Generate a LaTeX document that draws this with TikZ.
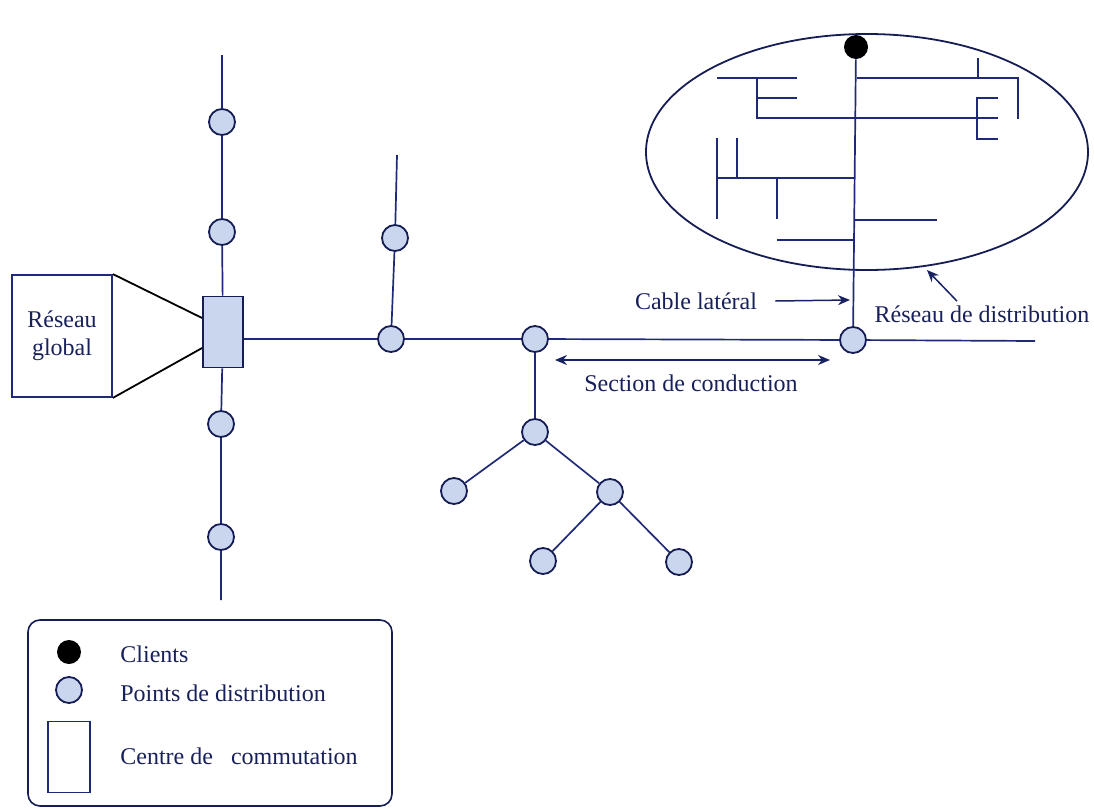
\documentclass[tikz,border=0pt]{standalone}
\usepackage{fontspec}
\setmainfont{Liberation Serif}
\usetikzlibrary{arrows.meta}
\definecolor{navy}{HTML}{1E2A78}
\definecolor{txtnavy}{HTML}{18205C}
\definecolor{ptfill}{HTML}{C9D6EE}
\tikzset{
  pt/.style={circle, draw=navy!70!black, fill=ptfill, line width=0.9pt, minimum size=13pt, inner sep=0pt},
  client/.style={circle, fill=black, minimum size=12pt, inner sep=0pt},
  cable/.style={draw=navy, line width=0.85pt},
  lbl/.style={text=txtnavy, font=\fontsize{12}{14}\selectfont, inner sep=1pt},
  fleche/.style={-{Stealth[length=6pt,width=5pt]}, draw=navy!80!black, line width=0.75pt}
}
\begin{document}
\begin{tikzpicture}[x=0.5pt, y=-0.5pt]
        \useasboundingbox (0,0) rectangle (1094,809);

        % centre de commutation + reseau global
        \node [draw=navy!70!black, fill=ptfill, line width=0.9pt, minimum width=20pt, minimum height=35.5pt, inner sep=0pt] (sw) at (223,332) {};
        \node [draw=navy, line width=0.9pt, minimum width=50pt, minimum height=61pt, lbl, align=center] (rg) at (62,336) {Réseau\\global};
        \draw [line width=0.9pt] (rg.north east) -- ([yshift=7pt]sw.west);
        \draw [line width=0.9pt] (rg.south east) -- ([yshift=-8pt]sw.west);

        % ligne verticale de gauche
        \coordinate (atop) at (222,55);
        \node [pt] (a1) at (222,122) {};
        \node [pt] (a2) at (222,232) {};
        \node [pt] (a3) at (221,424) {};
        \node [pt] (a4) at (221,537) {};
        \coordinate (abot) at (221,600);
        \draw [cable] (atop) -- (a1) -- (a2) -- (sw) -- (a3) -- (a4) -- (abot);

        % ligne principale
        \node [pt] (b1) at (391,339) {};
        \node [pt] (b2) at (395,238) {};
        \coordinate (btop) at (397,155);
        \node [pt] (c1) at (535,339) {};
        \node [pt] (d1) at (853,340) {};
        \coordinate (dend) at (1035,341);
        \draw [cable] ([yshift=-3.5pt]sw.east) -- (b1) -- (c1) -- (d1) -- (dend);
        \draw [cable] (btop) -- (b2) -- (b1);

        % arbre
        \node [pt] (c2) at (535,432) {};
        \node [pt] (c3) at (454,491) {};
        \node [pt] (c4) at (610,492) {};
        \node [pt] (c5) at (543,561) {};
        \node [pt] (c6) at (679,562) {};
        \draw [cable] (c1) -- (c2);
        \draw [cable] (c2) -- (c3);
        \draw [cable] (c2) -- (c4);
        \draw [cable] (c4) -- (c5);
        \draw [cable] (c4) -- (c6);

        % reseau de distribution
        \draw [navy!70!black, line width=0.9pt] (867,152) ellipse [x radius=221, y radius=118];
        \node [client] (cli) at (856,47) {};
        \draw [cable] (cli) -- (d1);
        \draw [cable] (857,78) -- (1018,78) -- (1018,119);
        \draw [cable] (978,58) -- (978,78);
        \draw [cable] (717,78) -- (797,78);
        \draw [cable] (757,78) -- (757,118) -- (998,118);
        \draw [cable] (757,98) -- (797,98);
        \draw [cable] (998,98) -- (977,98) -- (977,139) -- (998,139);
        \draw [cable] (855,178) -- (717,178);
        \draw [cable] (717,138) -- (717,219);
        \draw [cable] (737,138) -- (737,178);
        \draw [cable] (777,178) -- (777,219);
        \draw [cable] (855,220) -- (937,220);
        \draw [cable] (777,240) -- (855,240);

        % etiquettes
        \node [lbl] (cl) at (696,301) {Cable latéral};
        \coordinate (clt) at (850,300);
        \draw [fleche] ([xshift=8pt]cl.east) -- (clt);

        \node [lbl] (rd) at (982,314) {Réseau de distribution};
        \coordinate (rdt) at (927,270);
        \draw [fleche] ([xshift=-12.5pt,yshift=1pt]rd.north) -- (rdt);

        \node [lbl] (sc) at (691,383) {Section de conduction};
        \coordinate (scl) at (555,360);
        \coordinate (scr) at (830,360);
        \draw [fleche, {Stealth[length=6pt,width=5pt]}-{Stealth[length=6pt,width=5pt]}] (scl) -- (scr);

        % legende
        \draw [navy!70!black, line width=0.8pt, rounded corners=6pt] (28,620) rectangle (392,806);
        \node [client] (lc) at (69,652) {};
        \node [pt] (lp) at (69,690) {};
        \node [draw=navy, line width=0.9pt, minimum width=21pt, minimum height=35.5pt, inner sep=0pt] (ls) at (69,757) {};
        \node [lbl, anchor=west] (tc) at (118,654) {Clients};
        \node [lbl, anchor=west] (tp) at (118,693) {Points de distribution};
        \node [lbl, anchor=west] (ts) at (118,756) {Centre de \ \ commutation};

    \end{tikzpicture}
\end{document}
